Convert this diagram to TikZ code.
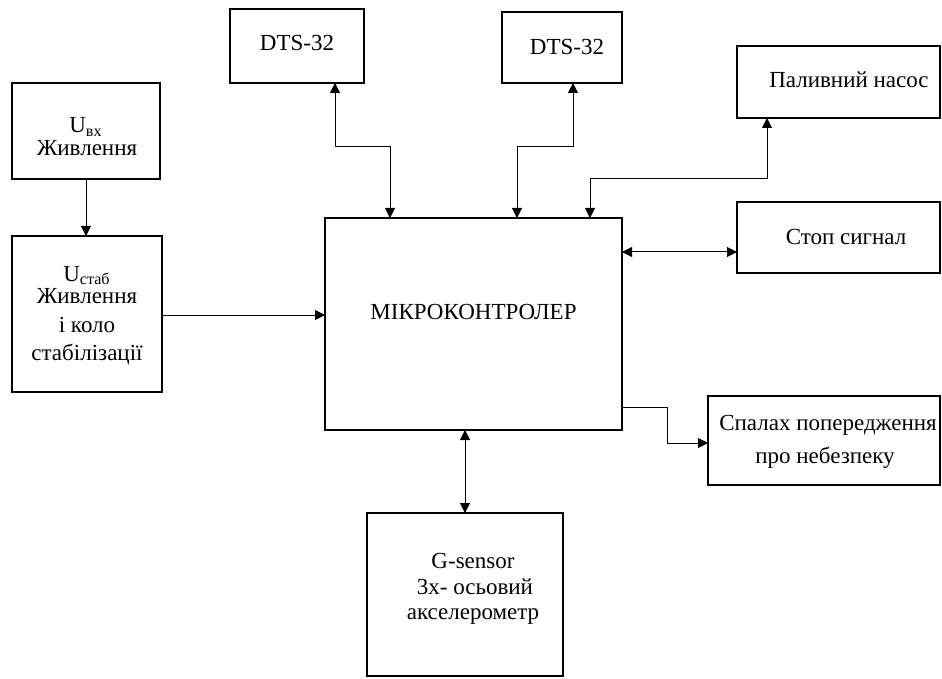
\documentclass[tikz,border=0pt]{standalone}
\usepackage{fontspec}
\setmainfont{Liberation Serif}
\usetikzlibrary{calc,arrows.meta}
\begin{document}
\begin{tikzpicture}[x=0.5pt,y=-0.5pt,
  box/.style={draw,line width=1pt,inner sep=0pt,outer sep=0pt},
  txt/.style={anchor=base,inner sep=0pt,font=\fontsize{11.5}{14}\selectfont},
  conn/.style={line width=0.5pt},
  tipA/.tip={Triangle[length=5pt,width=5pt]},
  one/.style={conn,-tipA},
  both/.style={conn,tipA-tipA}]
\useasboundingbox (0,0) rectangle (942,679);
% boxes
\node[box,minimum width=74pt,minimum height=48pt] (ubx) at (86,131) {};
\node[box,minimum width=75pt,minimum height=78pt] (ustab) at (87,314) {};
\node[box,minimum width=148.5pt,minimum height=106pt] (mcu) at (473.5,324) {};
\node[box,minimum width=67pt,minimum height=37pt] (dts1) at (297,46) {};
\node[box,minimum width=60pt,minimum height=35.5pt] (dts2) at (562,47.5) {};
\node[box,minimum width=101.5pt,minimum height=36pt] (pump) at (838.5,82) {};
\node[box,minimum width=101.5pt,minimum height=35.5pt] (stop) at (838.5,237.5) {};
\node[box,minimum width=116pt,minimum height=44.5pt] (flash) at (824,440.5) {};
\node[box,minimum width=98pt,minimum height=81.5pt] (gs) at (465,594.5) {};
% texts
\node[txt] (t1a) at (86,133) {U\textsubscript{вх}};
\node[txt] (t1b) at (87,156) {Живлення};
\node[txt] (t2a) at (87,281) {U\textsubscript{стаб}};
\node[txt] (t2b) at (87,303) {Живлення};
\node[txt] (t2c) at (87,332) {і коло};
\node[txt] (t2d) at (87,360) {стабілізації};
\node[txt] (t3) at (473.5,320) {МІКРОКОНТРОЛЕР};
\node[txt] (t4) at (297,51) {DTS-32};
\node[txt] (t5) at (567,55) {DTS-32};
\node[txt] (t6) at (849,88) {Паливний насос};
\node[txt] (t7) at (846,245) {Стоп сигнал};
\node[txt] (t8a) at (828,430) {Спалах попередження};
\node[txt] (t8b) at (825,463) {про небезпеку};
\node[txt] (t9a) at (473,568) {G-sensor};
\node[txt] (t9b) at (475,594) {3х- осьовий};
\node[txt] (t9c) at (473,619) {акселерометр};
% bend points
\coordinate (j1) at (390,147);
\coordinate (j2) at (517,147);
\coordinate (j3) at (590,179);
\coordinate (j4) at (667,407);
\coordinate (j5) at (0,315);
% connectors
\draw[one] (ubx.south) -- (ubx.south |- ustab.north);
\draw[one] (ustab.east |- j5) -- (mcu.west |- j5);
\draw[both] ($(dts1.south)+(38,0)$) |- (j1) -- (j1 |- mcu.north);
\draw[both] ($(dts2.south)+(11,0)$) |- (j2) -- (j2 |- mcu.north);
\draw[both] (j3 |- mcu.north) -- (j3) -| ($(pump.south)+(-71.5,0)$);
\draw[both] (mcu.east |- 0,252) -- ($(stop.west)+(0,14.5)$);
\draw[one] (mcu.east |- j4) -- (j4) |- ($(flash.west)+(0,2.5)$);
\draw[both] (gs.north |- mcu.south) -- (gs.north);
\end{tikzpicture}
\end{document}
